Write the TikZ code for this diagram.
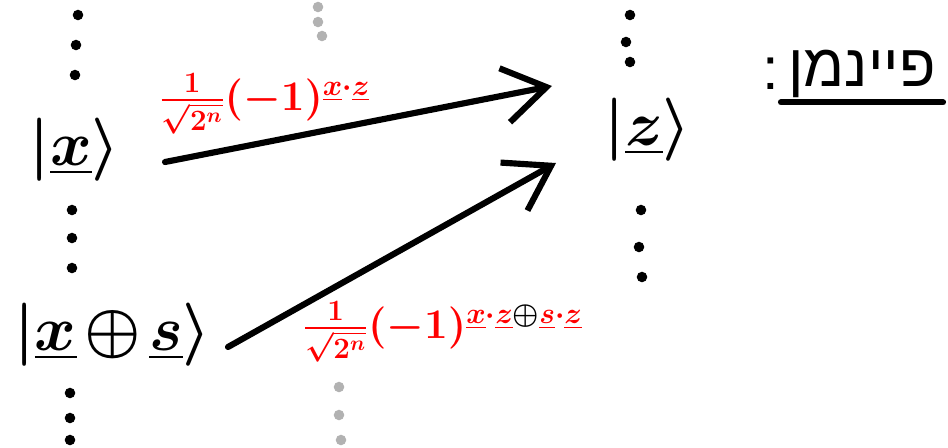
\documentclass[tikz,border=0pt]{standalone}
\usepackage{fix-cm}
\usepackage{amsmath}
\usepackage{fontspec}
\usepackage{xcolor}
\usepackage{tikz}
\usetikzlibrary{positioning, calc, arrows.meta}
\newfontfamily\hebfont[Script=Hebrew]{Liberation Sans}
\TeXXeTstate=1

\begin{document}
\begin{tikzpicture}[x=0.02cm, y=-0.02cm, ket/.style={font=\fontsize{36}{40}\selectfont\boldmath}, amp/.style={text=red, font=\fontsize{24}{28}\selectfont\boldmath}, heb/.style={font=\fontsize{34}{38}\selectfont\hebfont, inner sep=1pt}, dot/.style={circle, fill, inner sep=0pt, minimum size=6pt}, flow/.style={line width=3.5pt, line cap=round, -{Straight Barb[length=0.85cm, width=1.1cm]}}]
  \useasboundingbox (0,0) rectangle (948,447);
  \node[ket] (xket) at (75,150) {$|\underline{x}\rangle$};
  \node[ket] (xsket) at (113,335) {$|\underline{x}\mkern-2mu\oplus\mkern-2mu\underline{s}\rangle$};
  \node[ket] (zket) at (648,130) {$|\underline{z}\rangle$};
  \node[amp] (amp1) at (265,104) {$\frac{1}{\sqrt{2^n}}(-1)^{\underline{x}\cdot\underline{z}}$};
  \node[amp] (amp2) at (443,332) {$\frac{1}{\sqrt{2^n}}(-1)^{\underline{x}\cdot\underline{z}\mathbin{\color{black}\oplus}\underline{s}\cdot\underline{z}}$};
  \node[heb] (feyn) at (862,74) {\beginR פיינמן\endR};
  \node[heb, left=3pt of feyn] (colon) {:};
  \draw[line width=3.5pt, line cap=round] ([yshift=-9pt, xshift=-3pt]feyn.base west) -- ([yshift=-9pt, xshift=3pt]feyn.base east);
  \coordinate (xout) at (165,162);
  \coordinate (zin1) at (552,86);
  \coordinate (xsout) at (228,347);
  \coordinate (zin2) at (556,163);
  \draw[flow] (xout) -- (zin1);
  \draw[flow] (xsout) -- (zin2);
  \foreach \px/\py [count=\i] in {78/15, 76/45, 75/75, 72/210, 72/238, 72/268, 70/393, 70/418, 70/440, 630/15, 626/42, 630/62, 641/210, 639/247, 642/277}
    \node[dot] (bd\i) at (\px,\py) {};
  \foreach \px/\py [count=\i] in {318/7, 318/22, 322/36, 339/387, 339/415, 341/440}
    \node[dot, gray!60] (gd\i) at (\px,\py) {};
\end{tikzpicture}
\end{document}
